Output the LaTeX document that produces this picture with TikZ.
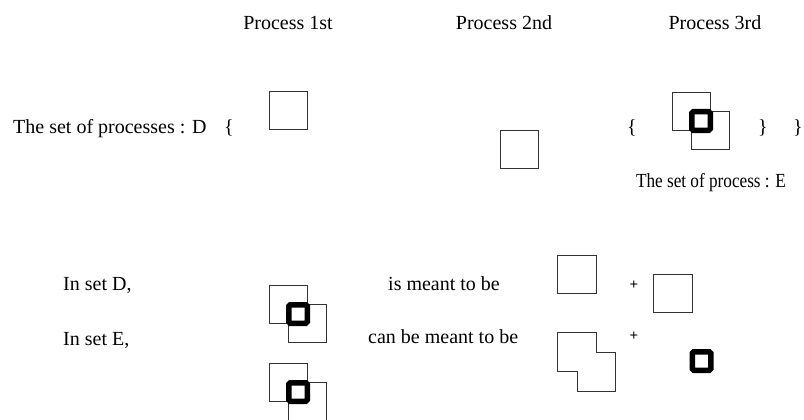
\documentclass[tikz,border=0pt]{standalone}
\usepackage{fontspec}
\setmainfont{Liberation Serif}
\newfontfamily\narrowserif[FakeStretch=0.86]{Liberation Serif}
\begin{document}
\begin{tikzpicture}[x=1pt,y=-1pt,
  txt/.style={font=\fontsize{20}{24}\selectfont, inner sep=0pt},
  stxt/.style={font=\narrowserif\fontsize{20}{24}\selectfont, inner sep=0pt},
  tbox/.style={draw=black!80, line width=0.9pt, minimum size=38.5pt, inner sep=0pt},
  kbox/.style={draw=black, line width=5.5pt, minimum size=18.5pt, inner sep=0pt, fill=white, rounded corners=1.5pt},
  plus/.style={font=\fontsize{15}{15}\selectfont\bfseries, inner sep=0pt},
  outline/.style={draw=black!80, line width=0.9pt}]
\useasboundingbox (0,0) rectangle (804,420);
\clip (0,0) rectangle (804,420);
% titles
\node[txt, anchor=base] (t1) at (288,30) {Process 1st};
\node[txt, anchor=base] (t2) at (504,30) {Process 2nd};
\node[txt, anchor=base] (t3) at (715,30) {Process 3rd};
% row 1
\node[txt, anchor=base west] (setD) at (13,133) {The set of processes : D};
\node[txt, anchor=base] (lbD) at (229,133) {\{};
\node[tbox] (b1) at (288.5,110.5) {};
\node[tbox] (b2) at (519.5,149.5) {};
\node[txt, anchor=base] (lbE) at (632,133) {\{};
\node[tbox] (e1) at (691.5,111.5) {};
\node[tbox] (e2) at (710.5,130.5) {};
\node[kbox] (ek) at (701,121) {};
\node[txt, anchor=base] (rbE) at (763,133) {\}};
\node[txt, anchor=base] (rbD) at (798,133) {\}};
\node[stxt, anchor=base] (setE) at (711,187) {The set of process : E};
% row 2
\node[txt, anchor=base west] (inD) at (63,290) {In set D,};
\node[tbox] (c1a) at (288.5,304.5) {};
\node[tbox] (c1b) at (307.5,323.5) {};
\node[kbox] (c1k) at (298,314) {};
\node[txt, anchor=base west] (meant) at (388,290) {is meant to be};
\node[tbox] (pa) at (577,274.5) {};
\node[plus] (p1) at (634,285) {+};
\node[tbox] (pb) at (673,293.5) {};
% row 3
\node[txt, anchor=base west] (inE) at (63,345) {In set E,};
\node[txt, anchor=base west] (canbe) at (368,343) {can be meant to be};
\draw[outline] (557,332) -- (596,332) -- (596,352) -- (615,352) -- (615,391)
  -- (577,391) -- (577,371) -- (557,371) -- cycle;
\node[plus] (p2) at (634,336) {+};
\node[kbox] (lk) at (701.5,361) {};
% bottom composite
\node[tbox] (c2a) at (288.5,382.5) {};
\node[tbox] (c2b) at (307.5,401.5) {};
\node[kbox] (c2k) at (298,392) {};
\end{tikzpicture}
\end{document}
